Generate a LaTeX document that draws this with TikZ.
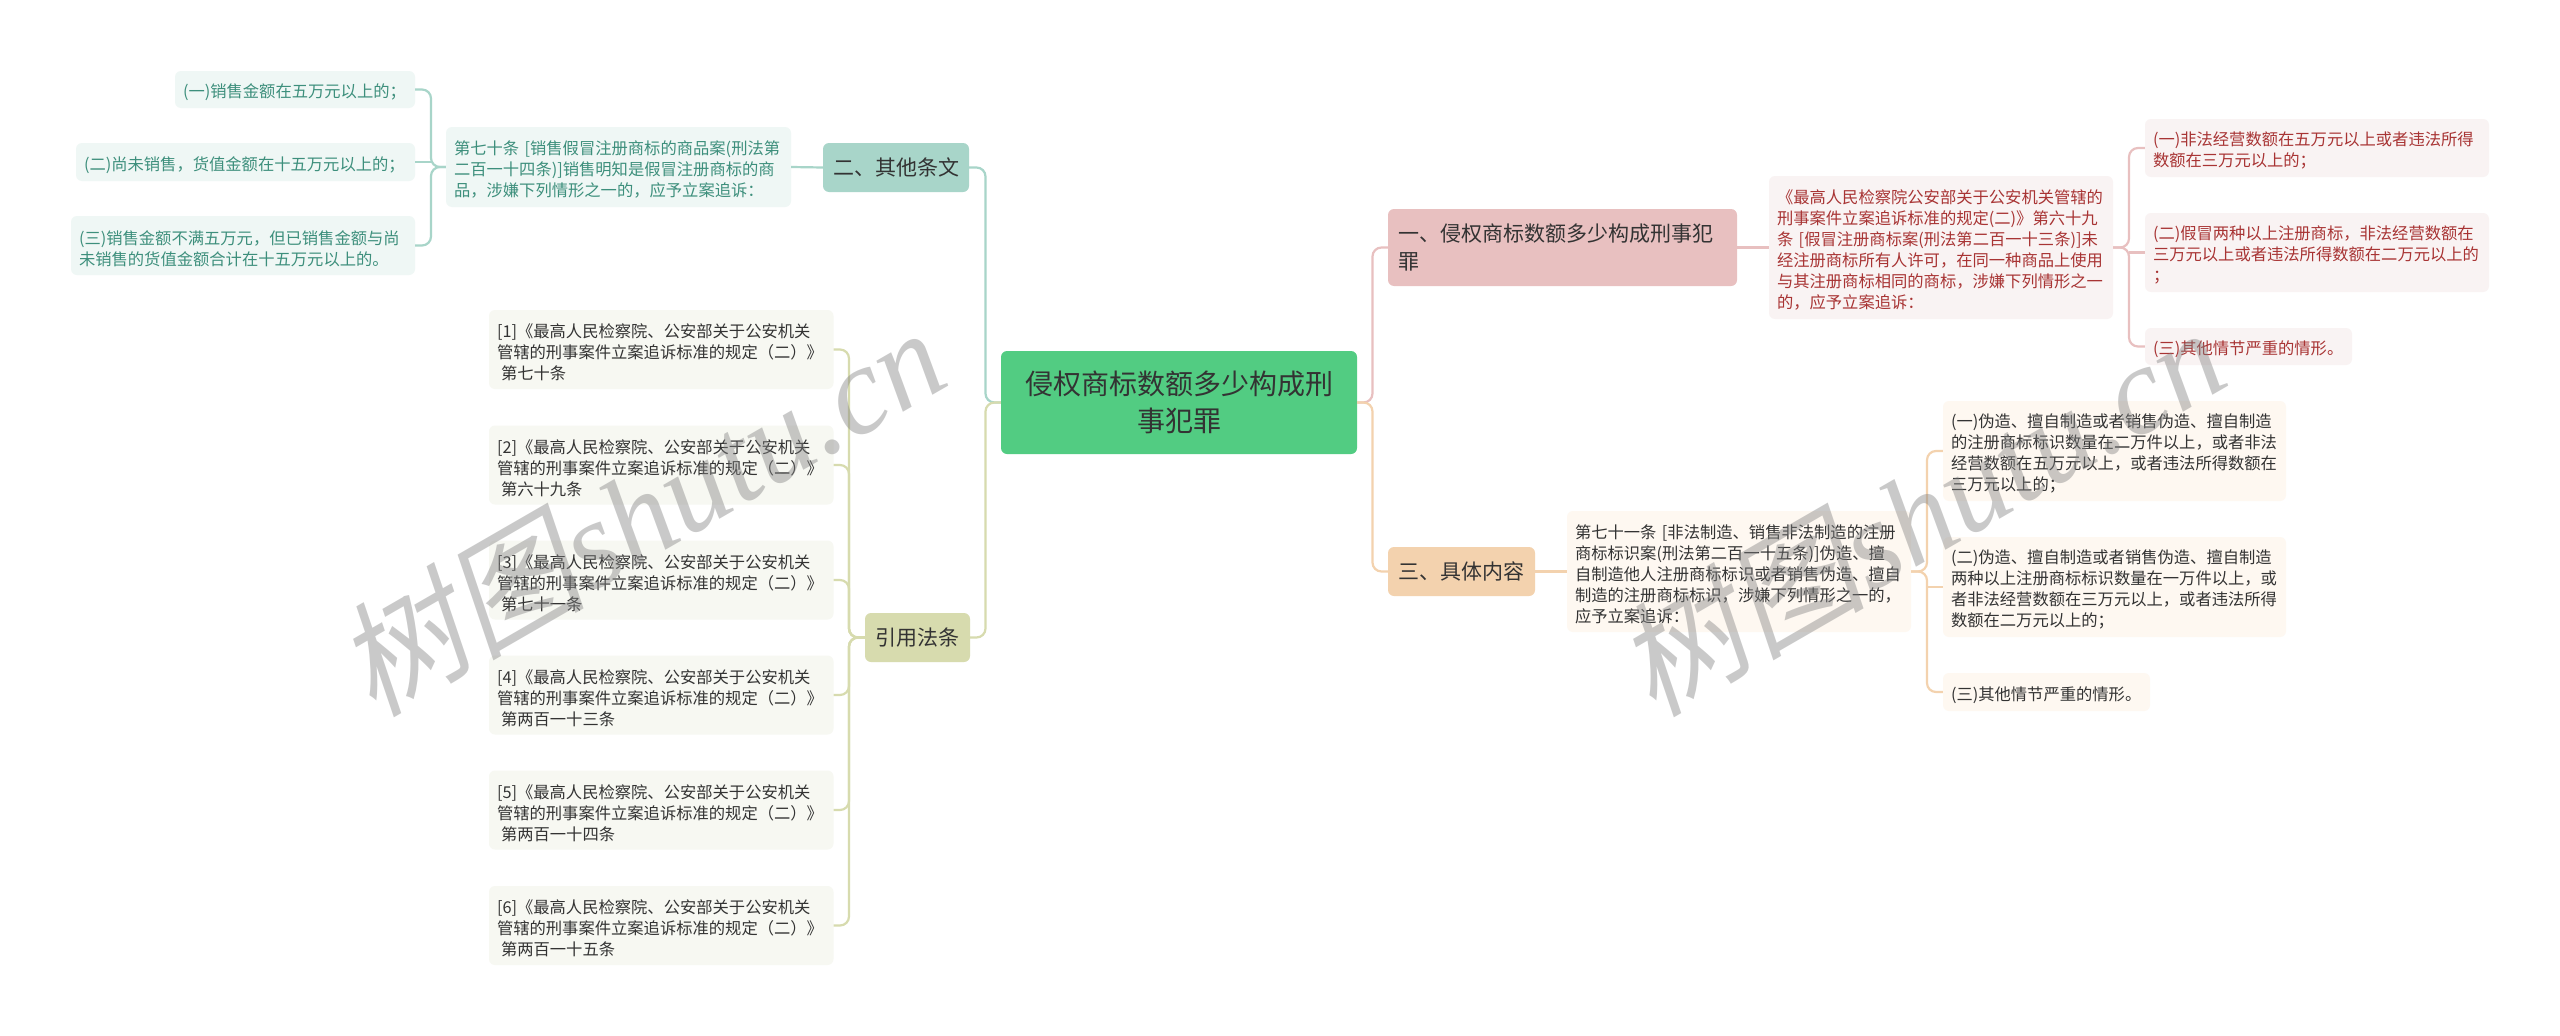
\documentclass[tikz,border=0pt]{standalone}
\usepackage{fontspec}
\setmainfont{Noto Sans CJK SC}
\newfontfamily\wmcjk[FakeSlant=0.2]{Noto Sans CJK SC}
\newfontfamily\wmlat{Liberation Serif}[ItalicFont={Liberation Serif Italic}]
\definecolor{rootc}{HTML}{52CC82}
\definecolor{gmid}{HTML}{A8D5C9}
\definecolor{gleaf}{HTML}{EFF7F5}
\definecolor{gtext}{HTML}{3D8F7C}
\definecolor{omid}{HTML}{D7DBAE}
\definecolor{oleaf}{HTML}{F7F8F2}
\definecolor{rmid}{HTML}{E8C0C0}
\definecolor{rleaf}{HTML}{F9F3F3}
\definecolor{rtext}{HTML}{A83434}
\definecolor{amid}{HTML}{F3D2AE}
\definecolor{aleaf}{HTML}{FEF8F1}
\definecolor{ink}{HTML}{333333}
\tikzset{
  base/.style={rounded corners=6pt,inner ysep=0pt,anchor=center},
  leafbox/.style={base,inner xsep=8pt,align=left,text=ink,
    font=\fontsize{16.3}{21}\selectfont,
    execute at begin node={\rule{0pt}{19.5pt}}},
  midbox/.style={base,inner xsep=0pt,text=ink,align=center,
    font=\fontsize{21}{28}\selectfont},
  rootbox/.style={base,inner xsep=0pt,fill=rootc,text=ink,align=center,
    font=\fontsize{28}{37}\selectfont},
  link/.style={line width=2.2pt,rounded corners=9pt},
  mark wm/.style={opacity=.42,text=gray,rotate=30,anchor=center,inner sep=0pt},
}
\begin{document}
\begin{tikzpicture}[x=1pt,y=-1pt]
\useasboundingbox (0,0) rectangle (2560,1036);
\fill[white] (0,0) rectangle (2560,1036);
% spine abscissae
\coordinate (sgreen) at (431,0);
\coordinate (sref) at (849,0);
\coordinate (sleft) at (985.5,0);
\coordinate (sright) at (1372.5,0);
\coordinate (sred) at (2129,0);
\coordinate (sor) at (1927,0);
% nodes
\node[rootbox,minimum width=356pt,minimum height=103pt] (root) at (1179,402.5) {侵权商标数额多少构成刑\\事犯罪};
\node[midbox,fill=gmid,minimum width=146pt,minimum height=49pt] (two) at (896,167.5) {二、其他条文};
\node[midbox,fill=omid,minimum width=105pt,minimum height=49pt] (cite) at (917.5,637.5) {引用法条};
\node[midbox,fill=rmid,inner xsep=10pt,text width=329pt,align=left,minimum height=77pt] (one) at (1562.5,247.5) {一、侵权商标数额多少构成刑事犯\\罪};
\node[midbox,fill=amid,minimum width=147pt,minimum height=49pt] (three) at (1461.5,571.5) {三、具体内容};
% green branch
\node[leafbox,fill=gleaf,text=gtext,text width=329pt,minimum height=80pt] (art70) at (618.5,167) {第七十条 [销售假冒注册商标的商品案(刑法第\\二百一十四条)]销售明知是假冒注册商标的商\\品，涉嫌下列情形之一的，应予立案追诉：};
\node[leafbox,fill=gleaf,text=gtext,text width=224pt,minimum height=37pt] (a1) at (295,89.5) {(一)销售金额在五万元以上的；};
\node[leafbox,fill=gleaf,text=gtext,text width=323pt,minimum height=38pt] (a2) at (245.5,162) {(二)尚未销售，货值金额在十五万元以上的；};
\node[leafbox,fill=gleaf,text=gtext,text width=328pt,minimum height=59pt] (a3) at (243,245.5) {(三)销售金额不满五万元，但已销售金额与尚\\未销售的货值金额合计在十五万元以上的。};
% citations
\node[leafbox,fill=oleaf,text width=328.5pt,minimum height=79pt] (r1) at (661.25,349.5) {[1]《最高人民检察院、公安部关于公安机关\\管辖的刑事案件立案追诉标准的规定（二）》\\\hspace*{4pt}第七十条};
\node[leafbox,fill=oleaf,text width=328.5pt,minimum height=79pt] (r2) at (661.25,465) {[2]《最高人民检察院、公安部关于公安机关\\管辖的刑事案件立案追诉标准的规定（二）》\\\hspace*{4pt}第六十九条};
\node[leafbox,fill=oleaf,text width=328.5pt,minimum height=79pt] (r3) at (661.25,580) {[3]《最高人民检察院、公安部关于公安机关\\管辖的刑事案件立案追诉标准的规定（二）》\\\hspace*{4pt}第七十一条};
\node[leafbox,fill=oleaf,text width=328.5pt,minimum height=79pt] (r4) at (661.25,695) {[4]《最高人民检察院、公安部关于公安机关\\管辖的刑事案件立案追诉标准的规定（二）》\\\hspace*{4pt}第两百一十三条};
\node[leafbox,fill=oleaf,text width=328.5pt,minimum height=79pt] (r5) at (661.25,810) {[5]《最高人民检察院、公安部关于公安机关\\管辖的刑事案件立案追诉标准的规定（二）》\\\hspace*{4pt}第两百一十四条};
\node[leafbox,fill=oleaf,text width=328.5pt,minimum height=79pt] (r6) at (661.25,925.5) {[6]《最高人民检察院、公安部关于公安机关\\管辖的刑事案件立案追诉标准的规定（二）》\\\hspace*{4pt}第两百一十五条};
% red branch
\node[leafbox,fill=rleaf,text=rtext,text width=328pt,minimum height=143pt] (art69) at (1941,247.5) {《最高人民检察院公安部关于公安机关管辖的\\刑事案件立案追诉标准的规定(二)》第六十九\\条 [假冒注册商标案(刑法第二百一十三条)]未\\经注册商标所有人许可，在同一种商品上使用\\与其注册商标相同的商标，涉嫌下列情形之一\\的，应予立案追诉：};
\node[leafbox,fill=rleaf,text=rtext,text width=328pt,minimum height=58pt] (c1) at (2317,148) {(一)非法经营数额在五万元以上或者违法所得\\数额在三万元以上的；};
\node[leafbox,fill=rleaf,text=rtext,text width=328pt,minimum height=79pt] (c2) at (2317,252.5) {(二)假冒两种以上注册商标，非法经营数额在\\三万元以上或者违法所得数额在二万元以上的\\；};
\node[leafbox,fill=rleaf,text=rtext,text width=191pt,minimum height=37pt] (c3) at (2248.5,346.5) {(三)其他情节严重的情形。};
% orange branch
\node[leafbox,fill=aleaf,text width=328pt,minimum height=121pt] (art71) at (1739,571.5) {第七十一条 [非法制造、销售非法制造的注册\\商标标识案(刑法第二百一十五条)]伪造、擅\\自制造他人注册商标标识或者销售伪造、擅自\\制造的注册商标标识，涉嫌下列情形之一的，\\应予立案追诉：};
\node[leafbox,fill=aleaf,text width=327pt,minimum height=100pt] (d1) at (2114.5,451) {(一)伪造、擅自制造或者销售伪造、擅自制造\\的注册商标标识数量在二万件以上，或者非法\\经营数额在五万元以上，或者违法所得数额在\\三万元以上的；};
\node[leafbox,fill=aleaf,text width=327pt,minimum height=100pt] (d2) at (2114.5,587) {(二)伪造、擅自制造或者销售伪造、擅自制造\\两种以上注册商标标识数量在一万件以上，或\\者非法经营数额在三万元以上，或者违法所得\\数额在二万元以上的；};
\node[leafbox,fill=aleaf,text width=191pt,minimum height=38pt] (d3) at (2046.5,692) {(三)其他情节严重的情形。};
% connectors: root to main branches
\draw[link,gmid] (two.east) -- (sleft |- two.east) -- (sleft |- root.west) -- (root.west);
\draw[link,omid] (cite.east) -- (sleft |- cite.east) -- (sleft |- root.west) -- (root.west);
\draw[link,rmid] (root.east) -- (sright |- root.east) -- (sright |- one.west) -- (one.west);
\draw[link,amid] (root.east) -- (sright |- root.east) -- (sright |- three.west) -- (three.west);
% green
\draw[link,gmid] (two.west) -- (art70.east);
\draw[link,gmid] (art70.west) -- (sgreen |- art70.west) -- (sgreen |- a1.east) -- (a1.east);
\draw[link,gmid] (art70.west) -- (sgreen |- art70.west) -- (sgreen |- a3.east) -- (a3.east);
\draw[line width=2.2pt,gmid] (sgreen |- a2.east) -- (a2.east);
% citations
\foreach \n in {r1,r2,r3,r4,r5,r6}
  \draw[link,omid] (cite.west) -- (sref |- cite.west) -- (sref |- \n.east) -- (\n.east);
% red
\draw[link,rmid] (one.east) -- (art69.west);
\draw[link,rmid] (art69.east) -- (sred |- art69.east) -- (sred |- c1.west) -- (c1.west);
\draw[link,rmid] (art69.east) -- (sred |- art69.east) -- (sred |- c3.west) -- (c3.west);
\draw[line width=2.2pt,rmid] (sred |- c2.west) -- (c2.west);
% orange
\draw[link,amid] (three.east) -- (art71.west);
\draw[link,amid] (art71.east) -- (sor |- art71.east) -- (sor |- d1.west) -- (d1.west);
\draw[link,amid] (art71.east) -- (sor |- art71.east) -- (sor |- d3.west) -- (d3.west);
\draw[line width=2.2pt,amid] (sor |- d2.west) -- (d2.west);
% watermarks
\node[mark wm] (wm1) at (640,510) {\fontsize{125}{125}\selectfont{\wmcjk 树图}{\wmlat\itshape shutu.cn}};
\node[mark wm] (wm2) at (1920,510) {\fontsize{125}{125}\selectfont{\wmcjk 树图}{\wmlat\itshape shutu.cn}};
\end{tikzpicture}
\end{document}
